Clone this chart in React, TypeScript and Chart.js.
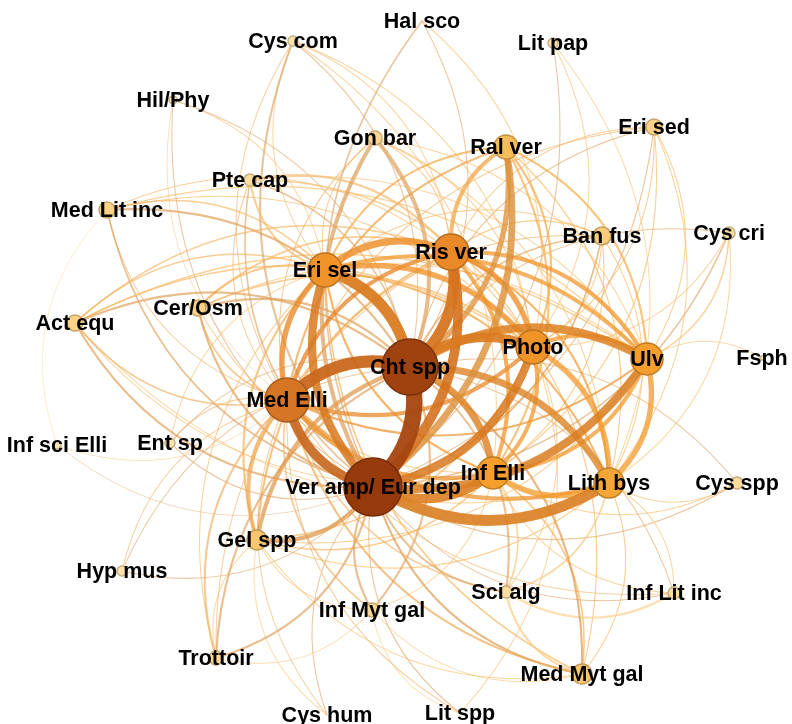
import React, { useEffect, useRef } from "react";
import { Chart, registerables } from "chart.js";

Chart.register(...registerables);

// ---- DATA ----
const nodeNames = [
  "Hal sco", "Cys com", "Lit pap", "Hil/Phy", "Gon bar", "Ral ver", "Eri sed", "Pte cap",
  "Med Lit inc", "Ban fus", "Cys cri", "Ris ver", "Eri sel", "Cer/Osm", "Act equ", "Photo",
  "Cht spp", "Ulv", "Fsph", "Med Elli", "Inf sci Elli", "Ent sp", "Ver amp/ Eur dep", "Inf Elli",
  "Lith bys", "Cys spp", "Gel spp", "Hyp mus", "Sci alg", "Inf Lit inc", "Inf Myt gal", "Trottoir",
  "Med Myt gal", "Cys hum", "Lit spp",
];
const nodeX = [
  422, 293, 553, 173, 375, 506, 654, 250,
  107, 602, 729, 451, 325, 198, 75, 533,
  410, 647, 762, 287, 57, 170, 373, 493,
  609, 737, 257, 122, 506, 674, 372, 216,
  582, 327, 460,
];
const nodeY = [
  21, 41, 43, 100, 138, 147, 127, 180,
  210, 236, 233, 252, 270, 308, 323, 347,
  367, 359, 358, 400, 445, 443, 487, 473,
  483, 483, 540, 571, 592, 593, 610, 658,
  674, 715, 713,
];
const nodeSize = [
  5, 5, 5, 4, 7, 12, 8, 6,
  8, 9, 6, 18, 17, 8, 8, 17,
  28, 16, 2, 22, 4, 5, 29, 16,
  15, 6, 10, 5, 6, 6, 7, 7,
  10, 5, 6,
];

const C = "Cht spp", V = "Ver amp/ Eur dep", M = "Med Elli", E = "Eri sel", R = "Ris ver";
const P = "Photo", U = "Ulv", I = "Inf Elli", L = "Lith bys";

const coreEdges: [string, string, number][] = [
  [C, V, 12], [C, M, 9], [C, E, 8], [C, R, 8], [V, R, 7], [V, M, 7], [C, P, 7], [V, I, 7],
  [V, L, 8], [C, U, 6], [V, U, 6], [V, P, 6], [V, E, 6], [C, I, 5], [C, L, 5], [E, R, 5],
  [E, M, 4], [E, P, 4], [R, P, 4], [P, L, 4], [U, L, 4], [I, L, 4], [P, I, 3], [P, U, 3],
  [U, I, 3], [M, P, 3], [M, R, 3], [M, I, 3], [M, L, 3], [M, U, 2], [R, U, 3], [R, I, 3],
  [R, L, 2], [E, U, 3], [E, I, 2], [E, L, 2],
];
const upperEdges: [string, string, number][] = [
  ["Ral ver", V, 5], ["Ral ver", C, 4], ["Ral ver", R, 3], ["Ral ver", P, 2], ["Ral ver", U, 2],
  ["Ral ver", I, 2], ["Ral ver", L, 1], ["Ral ver", M, 2], ["Ral ver", E, 2],
  ["Gon bar", C, 3], ["Gon bar", V, 3], ["Gon bar", R, 1], ["Gon bar", P, 1], ["Gon bar", U, 1],
  ["Gon bar", M, 1], ["Gon bar", E, 1], ["Gon bar", L, 1],
  ["Hal sco", C, 1], ["Hal sco", V, 1.5], ["Hal sco", P, 1],
  ["Cys com", C, 1], ["Cys com", V, 2], ["Cys com", M, 1], ["Cys com", E, 1], ["Cys com", R, 1],
  ["Cys com", P, 1], ["Cys com", I, 1],
  ["Lit pap", P, 1], ["Lit pap", L, 1], ["Lit pap", V, 1],
  ["Hil/Phy", C, 1], ["Hil/Phy", V, 1], ["Hil/Phy", E, 1], ["Hil/Phy", M, 0.6],
  ["Eri sed", P, 1], ["Eri sed", C, 1], ["Eri sed", V, 1], ["Eri sed", I, 1], ["Eri sed", L, 1],
  ["Eri sed", U, 1], ["Eri sed", M, 1], ["Eri sed", R, 1],
  ["Pte cap", E, 2], ["Pte cap", R, 2], ["Pte cap", P, 1.5], ["Pte cap", C, 1.5], ["Pte cap", V, 1.5],
  ["Pte cap", U, 1], ["Pte cap", M, 1],
  ["Med Lit inc", C, 2], ["Med Lit inc", V, 1.5], ["Med Lit inc", R, 1], ["Med Lit inc", E, 1.5],
  ["Med Lit inc", P, 1], ["Med Lit inc", M, 1], ["Med Lit inc", U, 1],
  ["Ban fus", C, 1.5], ["Ban fus", V, 1.5], ["Ban fus", M, 1], ["Ban fus", P, 1], ["Ban fus", I, 1],
  ["Ban fus", L, 1], ["Ban fus", E, 1], ["Ban fus", R, 1],
  ["Cys cri", U, 1.5], ["Cys cri", P, 1], ["Cys cri", C, 1], ["Cys cri", V, 1.5], ["Cys cri", L, 1],
];
const sideEdges: [string, string, number][] = [
  ["Cer/Osm", E, 2], ["Cer/Osm", R, 1.5], ["Cer/Osm", C, 2], ["Cer/Osm", V, 2], ["Cer/Osm", P, 1.5],
  ["Cer/Osm", U, 1], ["Cer/Osm", M, 1.5], ["Cer/Osm", I, 1],
  ["Act equ", C, 2], ["Act equ", V, 2], ["Act equ", E, 1.5], ["Act equ", R, 1.5], ["Act equ", P, 1.5],
  ["Act equ", M, 1.5], ["Act equ", U, 1.5], ["Act equ", I, 1], ["Act equ", L, 1],
  ["Fsph", U, 1],
  ["Inf sci Elli", M, 0.5], ["Inf sci Elli", "Med Lit inc", 0.5], ["Inf sci Elli", V, 0.5],
  ["Ent sp", M, 1], ["Ent sp", C, 1], ["Ent sp", V, 1], ["Ent sp", E, 1],
  ["Cys spp", L, 1], ["Cys spp", I, 1], ["Cys spp", V, 1], ["Cys spp", C, 1],
];
const lowerEdges: [string, string, number][] = [
  ["Gel spp", V, 3], ["Gel spp", M, 3], ["Gel spp", C, 3], ["Gel spp", E, 2], ["Gel spp", R, 2],
  ["Gel spp", P, 1.5], ["Gel spp", I, 1.5], ["Gel spp", L, 1], ["Gel spp", U, 1],
  ["Hyp mus", M, 1], ["Hyp mus", C, 1], ["Hyp mus", V, 1],
  ["Sci alg", V, 2], ["Sci alg", C, 2], ["Sci alg", "Med Myt gal", 2], ["Sci alg", "Inf Lit inc", 2],
  ["Sci alg", I, 1.5], ["Sci alg", L, 1.5], ["Sci alg", P, 1], ["Sci alg", M, 1.5],
  ["Inf Lit inc", V, 1], ["Inf Lit inc", I, 1], ["Inf Lit inc", L, 1], ["Inf Lit inc", C, 1],
  ["Inf Lit inc", M, 1],
  ["Inf Myt gal", V, 2], ["Inf Myt gal", C, 2], ["Inf Myt gal", "Med Myt gal", 1], ["Inf Myt gal", M, 1.5],
  ["Inf Myt gal", "Gel spp", 1], ["Inf Myt gal", I, 1],
  ["Trottoir", M, 2], ["Trottoir", V, 2], ["Trottoir", C, 2], ["Trottoir", E, 1],
  ["Trottoir", "Gel spp", 1], ["Trottoir", "Inf Myt gal", 1], ["Trottoir", R, 1],
  ["Med Myt gal", V, 2], ["Med Myt gal", C, 2], ["Med Myt gal", M, 2], ["Med Myt gal", I, 1.5],
  ["Med Myt gal", "Gel spp", 1], ["Med Myt gal", L, 1], ["Med Myt gal", E, 1.5], ["Med Myt gal", R, 1],
  ["Cys hum", "Gel spp", 1], ["Cys hum", V, 1], ["Cys hum", M, 1],
  ["Lit spp", "Inf Myt gal", 1], ["Lit spp", V, 1], ["Lit spp", M, 1], ["Lit spp", P, 1],
];

// ---- STYLE HELPERS ----
const colorStops: [number, number[]][] = [
  [2, [253, 232, 184]],
  [5, [253, 226, 170]],
  [8, [251, 210, 135]],
  [12, [248, 188, 88]],
  [16, [245, 158, 44]],
  [18, [234, 137, 40]],
  [22, [214, 117, 36]],
  [29, [150, 58, 12]],
];
function nodeRgb(r: number): number[] {
  if (r <= colorStops[0][0]) return colorStops[0][1];
  for (let i = 1; i < colorStops.length; i++) {
    const [r1, c1] = colorStops[i];
    const [r0, c0] = colorStops[i - 1];
    if (r <= r1) {
      const t = (r - r0) / (r1 - r0);
      return c0.map((v, k) => Math.round(v + (c1[k] - v) * t));
    }
  }
  return colorStops[colorStops.length - 1][1];
}
const rgbStr = (c: number[], a = 1) => `rgba(${c[0]},${c[1]},${c[2]},${a})`;

const edgePlugin = {
  id: "networkEdges",
  beforeDatasetsDraw(chart: any) {
    const ctx = chart.ctx;
    const xs = chart.scales.x;
    const ys = chart.scales.y;
    const all = [...coreEdges, ...upperEdges, ...sideEdges, ...lowerEdges].slice().sort((a, b) => a[2] - b[2]);
    const mx0 = nodeX.reduce((s, v) => s + v, 0) / nodeX.length;
    const my0 = nodeY.reduce((s, v) => s + v, 0) / nodeY.length;
    const cx = xs.getPixelForValue(mx0);
    const cy = ys.getPixelForValue(my0);
    ctx.save();
    ctx.lineCap = "round";
    for (const [a, b, w] of all) {
      const ia = nodeNames.indexOf(a);
      const ib = nodeNames.indexOf(b);
      if (ia < 0 || ib < 0) continue;
      const x1 = xs.getPixelForValue(nodeX[ia]);
      const y1 = ys.getPixelForValue(nodeY[ia]);
      const x2 = xs.getPixelForValue(nodeX[ib]);
      const y2 = ys.getPixelForValue(nodeY[ib]);
      const dx = x2 - x1, dy = y2 - y1;
      const len = Math.hypot(dx, dy) || 1;
      const nx = -dy / len, ny = dx / len;
      const mx = (x1 + x2) / 2, my = (y1 + y2) / 2;
      const off = len * 0.3;
      const ax = mx + nx * off, ay = my + ny * off;
      const bx = mx - nx * off, by = my - ny * off;
      const da = Math.hypot(ax - cx, ay - cy);
      const db = Math.hypot(bx - cx, by - cy);
      const [qx, qy] = da >= db ? [ax, ay] : [bx, by];
      const ca = nodeRgb(nodeSize[ia]);
      const cb = nodeRgb(nodeSize[ib]);
      const light = nodeSize[ia] <= nodeSize[ib] ? ca : cb;
      const dark = nodeSize[ia] <= nodeSize[ib] ? cb : ca;
      const both = light.map((v, k) => v * 0.7 + dark[k] * 0.3);
      const mix = both.map((v, k) => Math.round(v * 0.88 + [232, 120, 30][k] * 0.12));
      const alpha = Math.min(0.95, 0.62 + 0.04 * w);
      ctx.strokeStyle = rgbStr(mix, alpha);
      ctx.lineWidth = w <= 2 ? Math.max(0.7, w * 1.05) : w * 1.35;
      ctx.beginPath();
      ctx.moveTo(x1, y1);
      ctx.quadraticCurveTo(qx, qy, x2, y2);
      ctx.stroke();
    }
    ctx.restore();
  },
};

const labelPlugin = {
  id: "nodeLabels",
  afterDatasetsDraw(chart: any) {
    const ctx = chart.ctx;
    const meta = chart.getDatasetMeta(0);
    ctx.save();
    ctx.font = 'bold 21.5px "Liberation Sans", Arial, sans-serif';
    ctx.textAlign = "center";
    ctx.textBaseline = "middle";
    ctx.fillStyle = "#000000";
    meta.data.forEach((el: any, i: number) => {
      ctx.fillText(nodeNames[i], el.x, el.y + 1);
    });
    ctx.restore();
  },
};

export default function App() {
  const ref = useRef<HTMLCanvasElement | null>(null);
  useEffect(() => {
    if (!ref.current) return;
    const fills = nodeSize.map((r) => rgbStr(nodeRgb(r)));
    const borders = nodeSize.map((r) => rgbStr(nodeRgb(r).map((v) => Math.round(v * 0.78))));
    const chart = new Chart(ref.current, {
      type: "bubble",
      data: {
        datasets: [
          {
            label: "nodes",
            data: nodeNames.map((_, i) => ({ x: nodeX[i], y: nodeY[i], r: nodeSize[i] })),
            backgroundColor: fills,
            borderColor: borders,
            borderWidth: 1.5,
            clip: false,
          },
        ],
      },
      options: {
        responsive: false,
        animation: false,
        events: [],
        layout: { padding: 0 },
        scales: {
          x: { type: "linear", min: 0, max: 792, display: false },
          y: { type: "linear", min: 0, max: 724, reverse: true, display: false },
        },
        plugins: { legend: { display: false }, tooltip: { enabled: false } },
      },
      plugins: [edgePlugin, labelPlugin],
    });
    // bubble charts reserve room for the largest bubble; set the scale ranges to the
    // chart area so that data units map 1:1 onto canvas pixels
    const area = chart.chartArea;
    const xo: any = chart.options.scales!.x;
    const yo: any = chart.options.scales!.y;
    xo.min = area.left;
    xo.max = area.right;
    yo.min = area.top;
    yo.max = area.bottom;
    chart.update();
    return () => chart.destroy();
  }, []);
  return (
    <div style={{ position: "absolute", left: 0, top: 0, width: 792, height: 724, background: "#fff" }}>
      <canvas ref={ref} width={792} height={724} style={{ display: "block" }} />
    </div>
  );
}
